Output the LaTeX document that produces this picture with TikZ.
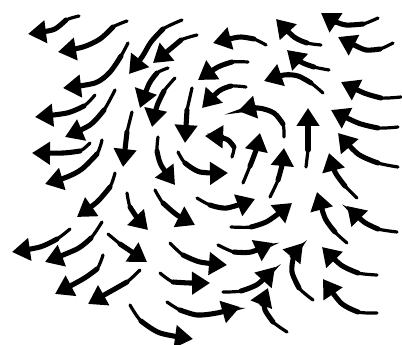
\documentclass[tikz,border=0pt]{standalone}
\usetikzlibrary{arrows.meta}
\tikzset{
  thinstroke/.style={line width=2.4pt,line cap=round},
  thickstroke/.style={line width=3.8pt,line cap=round,-{Triangle[length=13.5pt,width=16.5pt]}}
}
\newcommand\varw[3]{%
  \draw[thinstroke] plot[smooth] coordinates {#1 #2};
  \draw[thickstroke] plot[smooth] coordinates {#2 #3};}
\begin{document}
\begin{tikzpicture}[x=0.75pt,y=-0.75pt]
\useasboundingbox (0,0) rectangle (402,345);
% top-left
\varw{(79,16)}{(66,20) (55,29) (42,32)}{(28,34)}
\varw{(127,21)}{(113,27) (100,39) (83,47)}{(58,52)}
\varw{(128,43)}{(121,56) (110,72) (95,83)}{(63,88)}
\varw{(182,20)}{(163,29) (151,42) (142,57)}{(129,74)}
\varw{(197,35)}{(181,40) (169,50)}{(153,63)}
\varw{(95,95)}{(84,106) (67,113)}{(35,117)}
\varw{(115,90)}{(104,110) (90,125)}{(65,137)}
\varw{(168,68)}{(157,73) (149,84)}{(140,108)}
\varw{(175,78)}{(164,91) (157,106)}{(152,127)}
\varw{(132,112)}{(127,132)}{(123,167)}
\varw{(192,88)}{(187,110)}{(185,143)}
\varw{(90,143)}{(80,151) (63,153)}{(32,153)}
% top-right
\varw{(378,18)}{(363,24) (346,25) (334,21)}{(321,13)}
\varw{(393,43)}{(380,49) (366,50) (352,44)}{(338,37)}
\varw{(321,45)}{(307,43) (294,37)}{(276,19)}
\varw{(266,45)}{(254,39) (241,37) (229,39)}{(213,43)}
\varw{(329,70)}{(314,67) (301,62)}{(287,50)}
\varw{(248,62)}{(232,62) (218,67)}{(198,80)}
\varw{(323,93)}{(311,83) (298,76) (284,75)}{(264,81)}
\varw{(401,97)}{(381,98) (364,93)}{(341,82)}
\varw{(246,87)}{(231,86) (219,91)}{(202,108)}
\varw{(284,137)}{(283,124) (274,113) (258,108)}{(238,111)}
\varw{(306,167)}{(308,150)}{(308,108)}
\varw{(398,127)}{(378,128) (358,123)}{(331,110)}
\varw{(232,157)}{(234,147) (228,140) (218,137)}{(205,136)}
\varw{(243,183)}{(250,166) (256,150)}{(260,133)}
\varw{(270,197)}{(278,180) (282,165)}{(284,148)}
\varw{(398,167)}{(378,163) (358,154)}{(338,133)}
\varw{(357,198)}{(345,186) (335,172)}{(329,153)}
% bottom-left
\varw{(102,140)}{(97,154) (82,169) (67,177)}{(45,184)}
\varw{(115,173)}{(110,187) (97,202)}{(77,217)}
\varw{(127,193)}{(130,207) (138,219)}{(148,230)}
\varw{(155,190)}{(163,203) (177,215)}{(195,225)}
\varw{(158,137)}{(157,151) (161,165)}{(175,185)}
\varw{(70,229)}{(57,239) (40,247)}{(12,252)}
\varw{(102,222)}{(91,238) (77,249)}{(45,262)}
\varw{(108,234)}{(120,244)}{(147,262)}
\varw{(103,255)}{(97,269) (83,279)}{(55,294)}
\varw{(140,270)}{(127,282) (113,290)}{(88,304)}
\varw{(130,305)}{(141,321) (160,333)}{(193,339)}
% bottom-right
\varw{(178,152)}{(185,163) (200,172)}{(228,173)}
\varw{(197,198)}{(210,205) (227,208)}{(255,199)}
\varw{(170,243)}{(183,255) (200,262)}{(227,265)}
\varw{(160,273)}{(173,282) (190,283)}{(210,283)}
\varw{(167,302)}{(180,310) (197,315) (217,313)}{(240,307)}
\varw{(231,227)}{(251,227) (268,221)}{(292,203)}
\varw{(347,243)}{(335,232) (325,218)}{(317,192)}
\varw{(397,232)}{(378,229) (364,222)}{(347,206)}
\varw{(218,245)}{(234,252) (251,252)}{(273,243)}
\varw{(313,300)}{(299,288) (292,272) (294,256)}{(303,243)}
\varw{(377,275)}{(358,273) (341,265)}{(322,247)}
\varw{(223,292)}{(241,291) (258,284)}{(275,267)}
\varw{(287,332)}{(273,322) (265,310) (264,300)}{(268,288)}
\varw{(377,313)}{(358,312) (341,303)}{(323,279)}
\end{tikzpicture}
\end{document}
